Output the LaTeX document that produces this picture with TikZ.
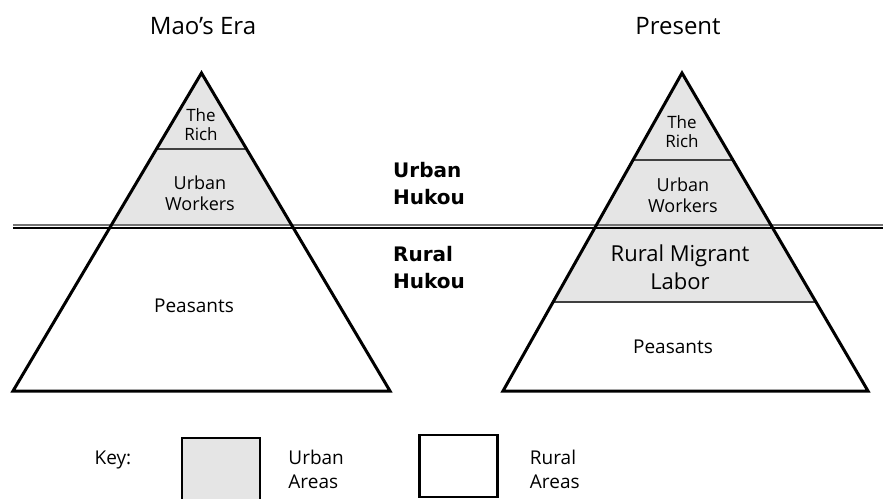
\documentclass[tikz,border=0pt]{standalone}
\usepackage{fontspec}
\setmainfont{Open Sans}
\newfontfamily\hukoufont{DejaVu Sans}
\usetikzlibrary{positioning}
\definecolor{urbangray}{gray}{0.9}
\tikzset{every node/.style={font=\fontsize{18}{21}\selectfont, align=center, inner sep=0pt},
  pyramid/.style={line width=3pt, line join=miter},
  layerline/.style={line width=1.2pt, black!75},
  hukou/.style={font=\hukoufont\bfseries\fontsize{20}{27}\selectfont, align=left, anchor=west},
  title/.style={font=\fontsize{24}{26}\selectfont},
  keybox/.style={draw, line width=2.5pt, minimum width=78pt, minimum height=62pt},
  keytext/.style={font=\fontsize{19}{24}\selectfont, align=left, anchor=west}}

\begin{document}
\begin{tikzpicture}[x=1pt, y=-1pt]
      \useasboundingbox (0,0) rectangle (883,498);
      % \draw[step=50,gray,ultra thin] (0,0) grid (883,498);

      % Mao's Era
      \begin{scope}
        \clip (201.5,73) -- (13,391) -- (390,391) -- cycle;
        \fill[urbangray] (0,60) rectangle (440,226);
        \draw[layerline] (0,149) -- (440,149);
      \end{scope}

      % Present
      \begin{scope}
        \clip (682,73) -- (503,391) -- (868,391) -- cycle;
        \fill[urbangray] (440,60) rectangle (883,302);
        \draw[layerline] (440,160) -- (883,160);
        \draw[layerline] (440,302) -- (883,302);
      \end{scope}

      % hukou border
      \draw[line width=2pt, black!55] (13,224.5) -- (883,224.5);
      \draw[line width=2pt] (13,227.5) -- (883,227.5);

      \draw[pyramid] (201.5,73) -- (13,391) -- (390,391) -- cycle;
      \draw[pyramid] (682,73) -- (503,391) -- (868,391) -- cycle;

      \node[title] (maotitle) at (203,26) {Mao's Era};
      \node[title] (nowtitle) at (678,26) {Present};

      \node[font=\fontsize{17}{19}\selectfont] (maorich) at (201,125) {The\\Rich};
      \node (maoworkers) at (200,193) {Urban\\Workers};
      \node[font=\fontsize{19}{22}\selectfont] (maopeasants) at (194,306) {Peasants};

      \node[font=\fontsize{17}{19}\selectfont] (nowrich) at (682,132) {The\\Rich};
      \node (nowworkers) at (683,195) {Urban\\Workers};
      \node[font=\fontsize{22}{28}\selectfont] (nowmigrant) at (680,267) {Rural Migrant\\Labor};
      \node[font=\fontsize{19}{22}\selectfont] (nowpeasants) at (673,347) {Peasants};

      \node[hukou] (urbanhukou) at (393,184) {Urban\\Hukou};
      \node[hukou] (ruralhukou) at (393,268) {Rural\\Hukou};

      % key
      \node[font=\fontsize{19}{22}\selectfont] (key) at (113,460) {Key:};
      \node[keybox, fill=urbangray] (urbanbox) at (221,469) {};
      \node[keytext, right=27pt of urbanbox.east] (urbanareas) {Urban\\Areas};
      \node[keybox, fill=white] (ruralbox) at (458.5,466) {};
      \node[keytext, right=31pt of ruralbox.east, yshift=-3pt] (ruralareas) {Rural\\Areas};
\end{tikzpicture}
\end{document}
